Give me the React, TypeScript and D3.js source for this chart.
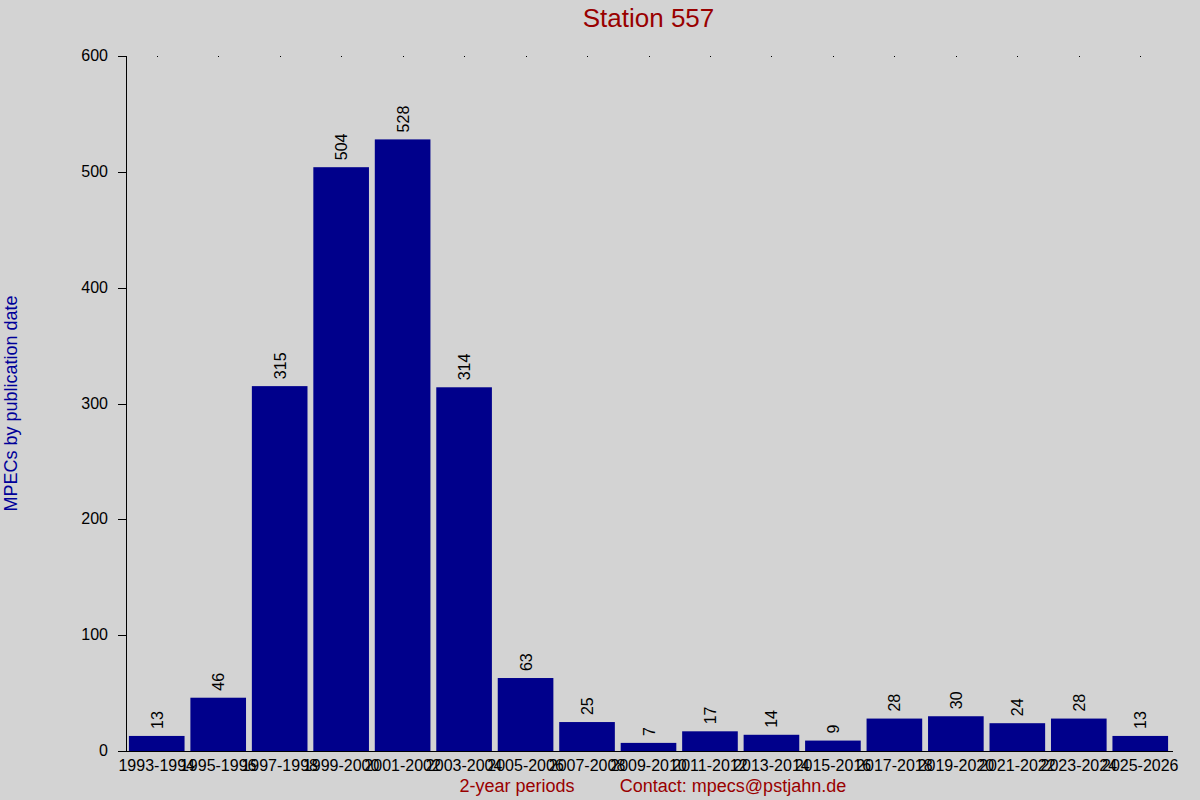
import React from 'react'
import * as d3 from 'd3'

const periods = [
  '1993-1994', '1995-1996', '1997-1998', '1999-2000', '2001-2002', '2003-2004',
  '2005-2006', '2007-2008', '2009-2010', '2011-2012', '2013-2014', '2015-2016',
  '2017-2018', '2019-2020', '2021-2022', '2023-2024', '2025-2026',
]
const counts = [13, 46, 315, 504, 528, 314, 63, 25, 7, 17, 14, 9, 28, 30, 24, 28, 13]
const yTicks = [0, 100, 200, 300, 400, 500, 600]

const W = 1200
const H = 800
const margin = { top: 56, right: 29, bottom: 49, left: 126 }
const font = 'Liberation Sans, Arial, sans-serif'

export default function App() {
  const x = d3.scaleBand<string>()
    .domain(periods)
    .range([margin.left, W - margin.right])
    .paddingInner(0.095)
    .paddingOuter(0.0475)

  const y = d3.scaleLinear()
    .domain([0, 600])
    .range([H - margin.bottom, margin.top])

  const y0 = y(0)
  const cx = (p: string) => (x(p) ?? 0) + x.bandwidth() / 2

  return (
    <div style={{ position: 'absolute', left: 0, top: 0 }}>
      <svg width={W} height={H} viewBox={`0 0 ${W} ${H}`} style={{ display: 'block', fontFamily: font }}>
        <rect x={0} y={0} width={W} height={H} fill="#d3d3d3" />

        {/* title */}
        <text x={(margin.left + W - margin.right) / 2} y={27} textAnchor="middle" fontSize={26} fill="#990000">
          Station 557
        </text>

        {/* bars */}
        {periods.map((p, i) => (
          <rect key={p} x={x(p)} y={y(counts[i])} width={x.bandwidth()} height={y0 - y(counts[i])} fill="#00008b" />
        ))}

        {/* value labels */}
        {periods.map((p, i) => (
          <text key={'v' + p} transform={`translate(${cx(p) + 6},${y(counts[i]) - 7}) rotate(-90)`}
            fontSize={16} fill="#000">
            {counts[i]}
          </text>
        ))}

        {/* top dots at category centres */}
        {periods.map(p => (
          <rect key={'d' + p} x={Math.round(cx(p))} y={margin.top} width={1} height={1} fill="#000" />
        ))}

        {/* y axis */}
        <line x1={margin.left + 0.5} x2={margin.left + 0.5} y1={y(600)} y2={y0} stroke="#000" />
        {yTicks.map(t => (
          <g key={t}>
            <line x1={margin.left - 8} x2={margin.left} y1={Math.round(y(t)) + 0.5} y2={Math.round(y(t)) + 0.5} stroke="#000" />
            <text x={margin.left - 18} y={y(t) + 5} textAnchor="end" fontSize={16} fill="#000">{t}</text>
          </g>
        ))}

        {/* x axis */}
        <line x1={margin.left - 8} x2={W - margin.right + 2} y1={Math.round(y0) + 0.5} y2={Math.round(y0) + 0.5} stroke="#000" />
        {periods.map(p => (
          <text key={'t' + p} x={cx(p)} y={y0 + 20} textAnchor="middle" fontSize={16} fill="#000">{p}</text>
        ))}

        {/* axis titles */}
        <text transform={`translate(17,${(margin.top + y0) / 2}) rotate(-90)`} textAnchor="middle" fontSize={18} fill="#000099">
          MPECs by publication date
        </text>
        <text x={517} y={792} textAnchor="middle" fontSize={18} fill="#990000">2-year periods</text>
        <text x={733} y={792} textAnchor="middle" fontSize={18} fill="#990000">Contact: mpecs@pstjahn.de</text>
      </svg>
    </div>
  )
}
